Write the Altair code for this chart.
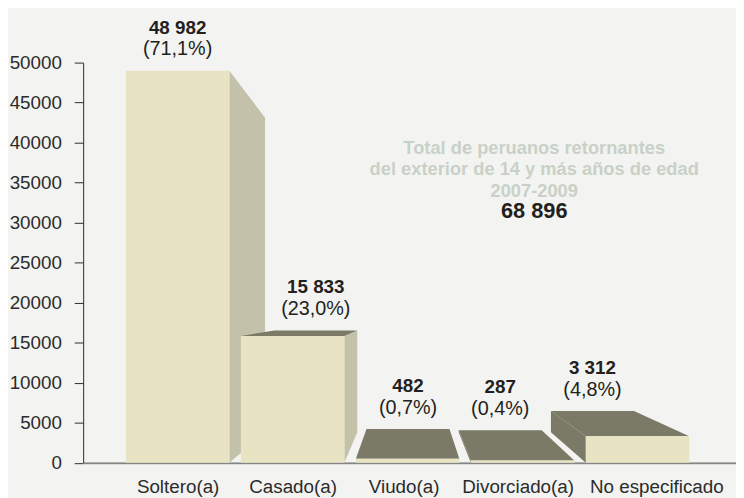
import json
import altair as alt
import pandas as pd

# ---------------- data ----------------
categories = ["Soltero(a)", "Casado(a)", "Viudo(a)", "Divorciado(a)", "No especificado"]
values = [48982, 15833, 482, 287, 3312]
value_labels = ["48 982", "15 833", "482", "287", "3 312"]
pct_labels = ["(71,1%)", "(23,0%)", "(0,7%)", "(0,4%)", "(4,8%)"]
annotation_lines = ["Total de peruanos retornantes",
                    "del exterior de 14 y más años de edad",
                    "2007-2009"]
total_label = "68 896"
y_ticks = list(range(0, 50001, 5000))

# ---------------- style / geometry ----------------
FRONT = "#e8e4c3"
SIDE = "#c3c1a9"
DARK = "#7b7a67"
TEXT = "#231f20"
NOTE = "#c9d1c6"
BG = "#f3f4f2"
FONT = "Liberation Sans, Arial, sans-serif"

X_DOMAIN = [-0.8215, 4.856]
Y_DOMAIN = [0, 50000]
HALF = 0.45          # half bar width in slot units
VPX, VPY = 2.017, 19283.0   # vanishing point (data units)
K = 0.198            # depth factor

xs = alt.Scale(domain=X_DOMAIN, nice=False, zero=False)
ys = alt.Scale(domain=Y_DOMAIN, nice=False, zero=False)

label_expr = json.dumps(categories) + "[datum.value]"
XAXIS = alt.Axis(
    values=list(range(len(categories))), labelExpr=label_expr, ticks=False, tickSize=0,
    labelPadding=15, labelFont=FONT, labelFontSize=19, labelColor="#2b2b2b",
    labelOffset={"condition": [{"test": "datum.value == 2", "value": -4},
                               {"test": "datum.value == 3", "value": -5},
                               {"test": "datum.value == 4", "value": 19}],
                 "value": 0},
    domainColor="#1e1e1e", domainWidth=1, grid=False, title=None, labelOverlap=False,
    labelFlush=False)
YAXIS = alt.Axis(
    values=y_ticks, format="d", tickSize=9, labelPadding=13, labelFont=FONT,
    labelFontSize=19, labelColor="#2b2b2b", tickColor="#2b2b2b",
    domainColor="#2b2b2b", grid=False, title=None)


def X(field):
    return alt.X(field, scale=xs, axis=XAXIS)


def Y(field):
    return alt.Y(field, scale=ys, axis=YAXIS)


def back(x, y):
    return x + K * (VPX - x), y + K * (VPY - y)


order = sorted(range(len(values)), key=lambda i: -abs(i - VPX))

layers = []

# light baseline under the bars (carries the axes)
base_df = pd.DataFrame({"x0": [X_DOMAIN[0]], "x1": [X_DOMAIN[1]], "y": [0]})
base = alt.Chart(base_df).mark_rule(color="#cfcfcf", strokeWidth=1, yOffset=1.5).encode(
    x=X("x0:Q"), x2="x1:Q", y=Y("y:Q"))
layers.append(base)

label_rows = []
for i in order:
    v = values[i]
    c = float(i)
    xl, xr = c - HALF, c + HALF
    side = None
    if xr < VPX:
        bx, by0 = back(xr, 0)
        _, byv = back(xr, v)
        side = pd.DataFrame({"x": [xr, bx], "ylo": [0, by0], "yhi": [v, byv]})
        scol = SIDE
    elif xl > VPX:
        bx, by0 = back(xl, 0)
        _, byv = back(xl, v)
        side = pd.DataFrame({"x": [bx, xl], "ylo": [by0, 0], "yhi": [byv, v]})
        scol = DARK
    if side is not None:
        layers.append(alt.Chart(side).mark_area(color=scol, orient="vertical").encode(
            x=X("x:Q"), y=Y("ylo:Q"), y2="yhi:Q"))
    if v < VPY:
        bxl, byv = back(xl, v)
        bxr, _ = back(xr, v)
        top = pd.DataFrame({"y": [v, byv], "xlo": [xl, bxl], "xhi": [xr, bxr]})
        layers.append(alt.Chart(top).mark_area(color=DARK, orient="horizontal").encode(
            y=Y("y:Q"), x=X("xlo:Q"), x2="xhi:Q"))
        lx, ly = back(c, v)
    else:
        lx, ly = c, v
    front = pd.DataFrame({"x": [xl], "x2": [xr], "y": [0], "y2": [v]})
    layers.append(alt.Chart(front).mark_rect(color=FRONT).encode(
        x=X("x:Q"), x2="x2:Q", y=Y("y:Q"), y2="y2:Q"))
    label_rows.append({"lx": lx, "ly": max(ly, v), "val": value_labels[i], "pct": pct_labels[i]})

labels_df = pd.DataFrame(label_rows)
val_text = alt.Chart(labels_df).mark_text(
    font=FONT, fontSize=19, fontWeight="bold", color=TEXT, baseline="alphabetic", dy=-37.5
).encode(x=X("lx:Q"), y=Y("ly:Q"), text="val:N")
pct_text = alt.Chart(labels_df).mark_text(
    font=FONT, fontSize=20, color=TEXT, baseline="alphabetic", dy=-15.5
).encode(x=X("lx:Q"), y=Y("ly:Q"), text="pct:N")
layers += [val_text, pct_text]

one = pd.DataFrame({"a": [0]})
note = alt.Chart(one).mark_text(
    text=annotation_lines, font=FONT, fontSize=18.5, fontWeight="bold", color=NOTE,
    align="center", baseline="alphabetic", lineHeight=21.5
).encode(x=alt.value(456), y=alt.value(92.5))
total = alt.Chart(one).mark_text(
    text=total_label, font=FONT, fontSize=22, fontWeight="bold", color=TEXT,
    align="center", baseline="alphabetic"
).encode(x=alt.value(456), y=alt.value(157))
layers += [note, total]

chart = alt.layer(*layers).properties(
    width=660, height=404.5,
    padding={"left": 76, "top": 52.5, "right": 0, "bottom": 33},
    autosize=alt.AutoSizeParams(type="none"),
    background=BG,
).configure_view(stroke=None)

chart.save("out.html", embed_options={"renderer": "svg", "actions": False})
